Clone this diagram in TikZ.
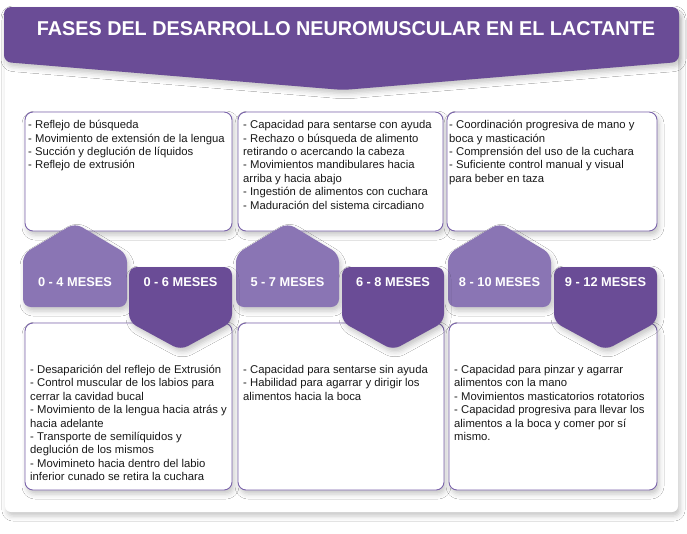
\documentclass[tikz,border=0pt]{standalone}
\usepackage{fontspec}
\setmainfont{Liberation Sans}
\usetikzlibrary{shadows.blur}
\definecolor{darkp}{RGB}{106,76,150}
\definecolor{lightp}{RGB}{138,117,180}
\definecolor{edgep}{RGB}{122,99,170}
\definecolor{bodytxt}{RGB}{25,25,25}
\begin{document}
\begin{tikzpicture}[x=1pt,y=-1pt,
  softshadow/.style={blur shadow={shadow xshift=2pt,shadow yshift=-4pt,shadow blur radius=5pt,shadow opacity=22}},
  card/.style={fill=white,rounded corners=6pt,softshadow},
  banner/.style={fill=darkp,rounded corners=7pt,softshadow},
  infobox/.style={draw=edgep,line width=0.9pt,fill=white,rounded corners=8pt,softshadow},
  lighttab/.style={fill=lightp,rounded corners=8pt,softshadow},
  darktab/.style={fill=darkp,rounded corners=8pt,softshadow},
  bodytext/.style={anchor=north west,inner sep=0pt,align=left,text=bodytxt,font=\fontsize{11.3}{13.4}\selectfont},
  tabtext/.style={anchor=base,inner sep=0pt,text=white,font=\bfseries\fontsize{12.8}{14}\selectfont},
  titletext/.style={anchor=center,inner sep=0pt,text=white,font=\bfseries}
]
\useasboundingbox[fill=white] (0,0) rectangle (687,533);

% background card
\path[card] (5,10) rectangle (678,512);

% title banner
\path[banner] (4,62) -- (4,7) -- (679,7) -- (679,62) -- (343,90) -- cycle;
\node[titletext] (title) at (346,28.7) {\resizebox{618pt}{14pt}{FASES DEL DESARROLLO NEUROMUSCULAR EN EL LACTANTE}};

% top boxes
\path[infobox] (25,112) rectangle (232,231);
\path[infobox] (238,112) rectangle (443,231);
\path[infobox] (447,112) rectangle (657,231);

% bottom boxes
\path[infobox] (25,323) rectangle (232,490);
\path[infobox] (238,323) rectangle (444,490);
\path[infobox] (449,323) rectangle (657,490);

% top texts
\node[bodytext] (t1) at (28,118.9) {\rule{0pt}{9.5pt}- Reflejo de búsqueda\\
- Movimiento de extensión de la lengua\\
- Succión y deglución de líquidos\\
- Reflejo de extrusión};
\node[bodytext] (t2) at (243,118.9) {\rule{0pt}{9.5pt}- Capacidad para sentarse con ayuda\\
- Rechazo o búsqueda de alimento\\
retirando o acercando la cabeza\\
- Movimientos mandibulares hacia\\
arriba y hacia abajo\\
- Ingestión de alimentos con cuchara\\
- Maduración del sistema circadiano};
\node[bodytext] (t3) at (449,118.9) {\rule{0pt}{9.5pt}- Coordinación progresiva de mano y\\
boca y masticación\\
- Comprensión del uso de la cuchara\\
- Suficiente control manual y visual\\
para beber en taza};

% bottom texts
\node[bodytext] (b1) at (30,363.8) {\rule{0pt}{9.5pt}- Desaparición del reflejo de Extrusión\\
- Control muscular de los labios para\\
cerrar la cavidad bucal\\
- Movimiento de la lengua hacia atrás y\\
hacia adelante\\
- Transporte de semilíquidos y\\
deglución de los mismos\\
- Movimineto hacia dentro del labio\\
inferior cunado se retira la cuchara};
\node[bodytext] (b2) at (243,363.8) {\rule{0pt}{9.5pt}- Capacidad para sentarse sin ayuda\\
- Habilidad para agarrar y dirigir los\\
alimentos hacia la boca};
\node[bodytext] (b3) at (454,363.8) {\rule{0pt}{9.5pt}- Capacidad para pinzar y agarrar\\
alimentos con la mano\\
- Movimientos masticatorios rotatorios\\
- Capacidad progresiva para llevar los\\
alimentos a la boca y comer por sí\\
mismo.};

% light tabs (pointing up)
\path[lighttab] (23,307) -- (23,254) -- (75,223) -- (127,254) -- (127,307) -- cycle;
\path[lighttab] (236,307) -- (236,254) -- (287.5,223) -- (339,254) -- (339,307) -- cycle;
\path[lighttab] (448,307) -- (448,254) -- (499.5,223) -- (551,254) -- (551,307) -- cycle;

% dark tabs (pointing down)
\path[darktab] (129,267) -- (129,322) -- (180.5,350) -- (232,322) -- (232,267) -- cycle;
\path[darktab] (342,267) -- (342,322) -- (393,350) -- (444,322) -- (444,267) -- cycle;
\path[darktab] (554,267) -- (554,322) -- (605.5,350) -- (657,322) -- (657,267) -- cycle;

% tab labels
\node[tabtext] (m04) at (75,286.5) {0 - 4 MESES};
\node[tabtext] (m06) at (180.5,286.5) {0 - 6 MESES};
\node[tabtext] (m57) at (287.5,286.5) {5 - 7 MESES};
\node[tabtext] (m68) at (393,286.5) {6 - 8 MESES};
\node[tabtext] (m810) at (499.5,286.5) {8 - 10 MESES};
\node[tabtext] (m912) at (605.5,286.5) {9 - 12 MESES};
\end{tikzpicture}
\end{document}
